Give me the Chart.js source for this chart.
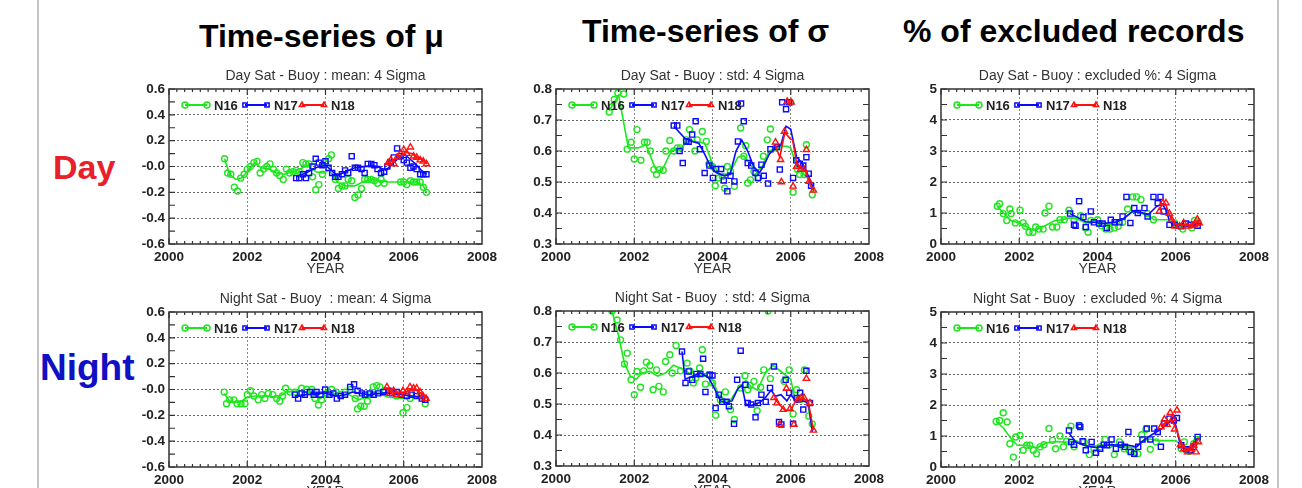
<!DOCTYPE html>
<html>
<head>
<meta charset="utf-8">
<script src="https://cdn.jsdelivr.net/npm/chart.js@4"></script>
<style>
  html, body { margin: 0; padding: 0; background: #fff; }
  body { width: 1302px; height: 488px; position: relative; overflow: hidden;
         font-family: 'Liberation Sans', Arial, sans-serif; }
  .rule { position: absolute; top: 0; width: 2px; height: 488px; background: #c4c4c4; }
  .head { position: absolute; font-weight: bold; font-size: 32px; line-height: 32px; color: #000; white-space: nowrap; }
  .row { position: absolute; font-weight: bold; white-space: nowrap; }
  canvas { position: absolute; }
</style>
</head>
<body>
<div class="rule" style="left:37px"></div>
<div class="rule" style="left:1277px"></div>

<div class="head" style="left:199px; top:20px">Time-series of μ</div>
<div class="head" style="left:582px; top:15px">Time-series of σ</div>
<div class="head" style="left:903px; top:15px">% of excluded records</div>

<div class="row" style="left:53px; top:150px; font-size:34px; line-height:34px; color:#e8202a">Day</div>
<div class="row" style="left:40px; top:349px; font-size:37px; line-height:37px; color:#1010c4">Night</div>

<canvas id="dayMean" width="388" height="220" style="left:119px; top:64px"></canvas>
<canvas id="dayStd" width="388" height="220" style="left:506px; top:64px"></canvas>
<canvas id="dayExcl" width="388" height="220" style="left:891px; top:64px"></canvas>
<canvas id="nightMean" width="388" height="220" style="left:119px; top:287px"></canvas>
<canvas id="nightStd" width="388" height="220" style="left:506px; top:286px"></canvas>
<canvas id="nightExcl" width="388" height="220" style="left:891px; top:287px"></canvas>

<script>
// ---- axis ticks ----
const yearTicks = [2000, 2002, 2004, 2006, 2008];
const yearLabels = ['2000', '2002', '2004', '2006', '2008'];
const meanTicks = [-0.6, -0.4, -0.2, 0, 0.2, 0.4, 0.6];
const meanTickLabels = ['-0.6', '-0.4', '-0.2', '-0.0', '0.2', '0.4', '0.6'];
const stdTicks = [0.3, 0.4, 0.5, 0.6, 0.7, 0.8];
const stdTickLabels = ['0.3', '0.4', '0.5', '0.6', '0.7', '0.8'];
const exclTicks = [0, 1, 2, 3, 4, 5];
const exclTickLabels = ['0', '1', '2', '3', '4', '5'];

const satellites = ['N16', 'N17', 'N18'];

// ---- Day, mean ----
const dayMeanN16Pts = [[2001.42,0.06],[2001.5,-0.05],[2001.58,-0.06],[2001.67,-0.16],[2001.75,-0.19],[2001.83,-0.09],[2001.92,-0.06],[2002.0,-0.02],[2002.08,0.0],[2002.17,0.03],[2002.25,0.04],[2002.33,-0.05],[2002.42,-0.02],[2002.5,0.0],[2002.58,0.02],[2002.67,-0.02],[2002.75,-0.05],[2002.83,-0.07],[2002.92,-0.1],[2003.0,-0.02],[2003.08,-0.05],[2003.17,-0.04],[2003.25,-0.03],[2003.33,-0.04],[2003.42,0.03],[2003.5,0.02],[2003.58,0.02],[2003.67,-0.08],[2003.75,-0.18],[2003.83,-0.14],[2003.92,-0.06],[2004.0,0.02],[2004.08,0.06],[2004.15,0.09],[2004.25,-0.1],[2004.33,-0.17],[2004.42,-0.15],[2004.5,-0.15],[2004.58,-0.1],[2004.67,-0.11],[2004.75,-0.24],[2004.83,-0.22],[2004.92,-0.17],[2005.0,-0.1],[2005.08,-0.1],[2005.17,-0.1],[2005.25,-0.11],[2005.33,-0.13],[2005.42,-0.1],[2005.5,-0.13],[2005.92,-0.12],[2006.0,-0.12],[2006.08,-0.14],[2006.17,-0.11],[2006.25,-0.12],[2006.33,-0.12],[2006.42,-0.12],[2006.5,-0.16],[2006.58,-0.2]];
const dayMeanN16Fit = [[2001.42,0.06],[2001.55,-0.06],[2001.7,-0.1],[2001.85,-0.09],[2002.0,-0.04],[2002.2,0.03],[2002.35,-0.01],[2002.55,-0.02],[2002.75,-0.05],[2002.95,-0.06],[2003.15,-0.04],[2003.35,-0.02],[2003.55,0.01],[2003.75,-0.04],[2003.95,-0.05],[2004.1,-0.03],[2004.3,-0.12],[2004.5,-0.15],[2004.75,-0.15],[2004.95,-0.12],[2005.15,-0.1],[2005.4,-0.11],[2005.6,-0.12],[2006.0,-0.12],[2006.35,-0.12],[2006.5,-0.15],[2006.58,-0.2]];
const dayMeanN17Pts = [[2003.25,-0.09],[2003.33,-0.09],[2003.42,-0.06],[2003.5,-0.09],[2003.58,-0.05],[2003.67,0.0],[2003.75,0.06],[2003.83,0.03],[2003.92,0.01],[2004.0,0.04],[2004.08,-0.01],[2004.17,-0.05],[2004.25,-0.08],[2004.33,-0.08],[2004.42,-0.06],[2004.5,-0.03],[2004.58,-0.05],[2004.67,0.08],[2004.75,-0.01],[2004.83,-0.01],[2004.92,-0.02],[2005.0,-0.05],[2005.08,0.02],[2005.17,0.02],[2005.25,0.01],[2005.33,-0.02],[2005.42,-0.05],[2005.5,-0.04],[2005.58,0.0],[2005.67,0.03],[2005.75,0.07],[2005.83,0.14],[2005.92,0.08],[2006.0,0.05],[2006.08,0.03],[2006.17,-0.01],[2006.25,0.0],[2006.33,-0.02],[2006.42,-0.06],[2006.5,-0.06],[2006.58,-0.06]];
const dayMeanN17Fit = [[2003.25,-0.08],[2003.5,-0.05],[2003.75,-0.01],[2004.0,0.01],[2004.15,-0.03],[2004.3,-0.07],[2004.5,-0.04],[2004.75,-0.01],[2005.0,0.0],[2005.2,0.01],[2005.4,-0.01],[2005.55,-0.03],[2005.7,0.02],[2005.85,0.06],[2006.0,0.1],[2006.15,0.06],[2006.3,0.02],[2006.45,-0.03],[2006.58,-0.06]];
const dayMeanN18Pts = [[2005.6,0.03],[2005.67,0.05],[2005.75,0.02],[2005.83,0.07],[2005.92,0.1],[2006.0,0.13],[2006.08,0.1],[2006.17,0.15],[2006.25,0.08],[2006.33,0.07],[2006.42,0.05],[2006.5,0.04],[2006.58,0.02]];
const dayMeanN18Fit = [[2005.6,0.03],[2005.75,0.05],[2005.9,0.08],[2006.05,0.11],[2006.2,0.1],[2006.35,0.07],[2006.5,0.05],[2006.6,0.02]];

// ---- Day, std ----
const dayStdN16Pts = [[2001.36,0.726],[2001.43,0.742],[2001.49,0.766],[2001.58,0.787],[2001.73,0.784],[2001.82,0.606],[2001.92,0.628],[2002.0,0.574],[2002.07,0.669],[2002.17,0.57],[2002.26,0.628],[2002.33,0.628],[2002.41,0.6],[2002.5,0.54],[2002.57,0.524],[2002.64,0.54],[2002.74,0.538],[2002.81,0.6],[2002.91,0.634],[2003.01,0.6],[2003.1,0.61],[2003.18,0.61],[2003.33,0.636],[2003.41,0.669],[2003.55,0.6],[2003.61,0.636],[2003.74,0.663],[2003.84,0.631],[2003.91,0.559],[2004.0,0.55],[2004.07,0.488],[2004.16,0.513],[2004.25,0.518],[2004.31,0.48],[2004.38,0.55],[2004.46,0.534],[2004.56,0.486],[2004.72,0.674],[2004.8,0.583],[2004.85,0.617],[2004.9,0.497],[2004.97,0.507],[2005.06,0.534],[2005.18,0.513],[2005.3,0.583],[2005.4,0.636],[2005.48,0.671],[2005.61,0.61],[2006.0,0.757],[2006.06,0.467],[2006.17,0.54],[2006.23,0.524],[2006.34,0.524],[2006.4,0.62],[2006.55,0.459]];
const dayStdN16Fit = [[2001.36,0.73],[2001.6,0.78],[2001.85,0.61],[2002.1,0.61],[2002.3,0.62],[2002.55,0.54],[2002.7,0.535],[2002.95,0.6],[2003.2,0.61],[2003.4,0.635],[2003.6,0.63],[2003.8,0.625],[2004.0,0.56],[2004.2,0.52],[2004.45,0.53],[2004.65,0.58],[2004.8,0.585],[2004.95,0.56],[2005.1,0.535],[2005.25,0.545],[2005.45,0.6],[2005.7,0.615],[2005.9,0.615],[2006.0,0.61],[2006.15,0.55],[2006.3,0.53],[2006.45,0.51],[2006.58,0.47]];
const dayStdN17Pts = [[2003.01,0.682],[2003.1,0.682],[2003.16,0.6],[2003.24,0.561],[2003.33,0.631],[2003.39,0.63],[2003.48,0.653],[2003.57,0.696],[2003.68,0.606],[2003.8,0.529],[2003.92,0.553],[2004.01,0.513],[2004.09,0.542],[2004.22,0.542],[2004.29,0.505],[2004.38,0.47],[2004.46,0.52],[2004.56,0.502],[2004.65,0.631],[2004.73,0.753],[2004.8,0.696],[2004.9,0.561],[2004.99,0.553],[2005.1,0.529],[2005.16,0.513],[2005.25,0.556],[2005.31,0.52],[2005.42,0.495],[2005.48,0.606],[2005.65,0.613],[2005.72,0.54],[2005.78,0.757],[2005.88,0.735],[2005.96,0.757],[2006.06,0.513],[2006.14,0.57],[2006.23,0.559],[2006.32,0.553],[2006.4,0.58],[2006.46,0.527],[2006.52,0.488]];
const dayStdN17Fit = [[2003.01,0.68],[2003.3,0.64],[2003.5,0.63],[2003.65,0.625],[2003.8,0.59],[2003.95,0.55],[2004.1,0.53],[2004.3,0.52],[2004.45,0.525],[2004.6,0.6],[2004.75,0.635],[2004.9,0.6],[2005.05,0.55],[2005.2,0.53],[2005.3,0.55],[2005.45,0.59],[2005.6,0.61],[2005.75,0.62],[2005.88,0.68],[2006.0,0.67],[2006.15,0.58],[2006.3,0.56],[2006.45,0.52],[2006.58,0.48]];
const dayStdN18Pts = [[2005.61,0.628],[2005.74,0.572],[2005.76,0.5],[2005.84,0.663],[2005.91,0.76],[2006.01,0.757],[2006.06,0.486],[2006.15,0.55],[2006.25,0.54],[2006.34,0.54],[2006.4,0.604],[2006.47,0.502],[2006.58,0.473]];
const dayStdN18Fit = [[2005.6,0.62],[2005.72,0.58],[2005.85,0.66],[2005.98,0.64],[2006.05,0.635],[2006.15,0.56],[2006.3,0.545],[2006.4,0.53],[2006.5,0.49],[2006.6,0.47]];

// ---- Day, excluded % ----
const dayExclN16Pts = [[2001.44,1.22],[2001.5,1.3],[2001.59,0.98],[2001.68,0.76],[2001.76,1.13],[2001.79,0.98],[2001.9,0.68],[2002.02,1.09],[2002.1,0.68],[2002.16,0.57],[2002.25,0.38],[2002.35,0.38],[2002.42,0.55],[2002.5,0.48],[2002.61,0.48],[2002.66,1.0],[2002.76,1.22],[2002.85,0.55],[2002.96,0.55],[2003.04,0.78],[2003.15,0.78],[2003.27,1.09],[2003.4,0.78],[2003.57,0.91],[2003.7,0.52],[2003.76,0.38],[2003.83,0.76],[2004.0,0.78],[2004.1,0.59],[2004.21,0.48],[2004.32,0.48],[2004.43,0.52],[2004.53,0.57],[2004.64,0.7],[2004.77,1.13],[2004.9,1.52],[2005.0,1.52],[2005.11,1.43],[2005.28,0.98],[2005.43,0.78],[2005.97,0.68],[2006.18,0.48],[2006.41,0.52],[2006.48,0.76],[2006.56,0.7]];
const dayExclN16Fit = [[2001.44,1.2],[2001.6,1.0],[2001.8,0.75],[2002.0,0.68],[2002.2,0.55],[2002.35,0.45],[2002.6,0.55],[2002.9,0.75],[2003.1,0.78],[2003.3,0.85],[2003.5,0.8],[2003.7,0.68],[2003.9,0.75],[2004.1,0.7],[2004.3,0.62],[2004.5,0.7],[2004.7,0.85],[2004.9,1.05],[2005.1,1.0],[2005.3,0.9],[2005.45,0.78],[2005.9,0.78],[2006.0,0.65],[2006.2,0.55],[2006.4,0.6],[2006.58,0.7]];
const dayExclN17Pts = [[2003.3,0.98],[2003.4,0.62],[2003.44,0.59],[2003.53,1.38],[2003.64,0.87],[2003.7,0.55],[2003.83,1.05],[2003.91,0.7],[2004.04,0.66],[2004.13,0.66],[2004.24,0.52],[2004.34,0.78],[2004.44,0.7],[2004.56,0.7],[2004.64,0.89],[2004.74,1.52],[2004.84,0.68],[2004.94,1.16],[2005.03,1.0],[2005.2,1.16],[2005.28,0.89],[2005.43,1.52],[2005.54,1.32],[2005.61,1.52],[2005.69,1.05],[2005.84,0.62],[2005.97,0.62],[2006.14,0.57],[2006.26,0.66],[2006.39,0.62],[2006.56,0.59]];
const dayExclN17Fit = [[2003.3,0.98],[2003.5,0.85],[2003.7,0.72],[2003.9,0.7],[2004.1,0.66],[2004.3,0.68],[2004.5,0.72],[2004.7,0.85],[2004.9,1.05],[2005.1,1.02],[2005.3,0.95],[2005.5,1.2],[2005.65,1.3],[2005.75,1.1],[2005.85,0.7],[2006.0,0.6],[2006.2,0.6],[2006.4,0.6],[2006.58,0.65]];
const dayExclN18Pts = [[2005.58,1.05],[2005.67,1.32],[2005.75,1.32],[2005.84,0.98],[2005.9,0.78],[2005.98,0.57],[2006.1,0.57],[2006.2,0.68],[2006.3,0.57],[2006.41,0.59],[2006.48,0.62],[2006.55,0.8],[2006.6,0.68]];
const dayExclN18Fit = [[2005.58,1.1],[2005.67,1.3],[2005.75,1.25],[2005.85,0.9],[2005.95,0.68],[2006.1,0.62],[2006.25,0.6],[2006.4,0.6],[2006.5,0.68],[2006.6,0.72]];

// ---- Night, mean ----
const nightMeanN16Pts = [[2001.41,-0.02],[2001.47,-0.11],[2001.55,-0.08],[2001.66,-0.08],[2001.74,-0.11],[2001.84,-0.11],[2001.94,-0.11],[2002.0,-0.04],[2002.08,-0.01],[2002.17,-0.05],[2002.28,-0.08],[2002.37,-0.04],[2002.45,-0.07],[2002.54,-0.03],[2002.65,-0.04],[2002.75,-0.07],[2002.83,-0.09],[2002.9,-0.05],[2002.98,0.01],[2003.09,-0.02],[2003.22,-0.02],[2003.39,0.01],[2003.52,0.0],[2003.65,0.0],[2003.73,-0.07],[2003.82,-0.12],[2003.9,-0.08],[2004.03,-0.03],[2004.16,0.0],[2004.27,-0.02],[2004.37,-0.04],[2004.5,-0.02],[2004.63,0.0],[2004.76,-0.07],[2004.82,-0.15],[2004.9,-0.13],[2004.99,-0.13],[2005.07,-0.09],[2005.14,-0.04],[2005.22,0.02],[2005.31,0.03],[2005.39,0.02],[2005.52,-0.01],[2005.82,-0.05],[2005.98,-0.18],[2006.08,-0.14],[2006.16,-0.07],[2006.32,-0.03],[2006.44,-0.05],[2006.55,-0.11]];
const nightMeanN16Fit = [[2001.41,-0.03],[2001.55,-0.09],[2001.8,-0.1],[2002.0,-0.06],[2002.2,-0.05],[2002.5,-0.05],[2002.8,-0.06],[2003.0,-0.02],[2003.3,-0.01],[2003.6,-0.02],[2003.85,-0.07],[2004.0,-0.05],[2004.3,-0.03],[2004.6,-0.04],[2004.85,-0.08],[2005.1,-0.05],[2005.35,-0.03],[2005.6,-0.06],[2006.0,-0.07],[2006.3,-0.05],[2006.55,-0.1]];
const nightMeanN17Pts = [[2003.22,-0.04],[2003.3,-0.07],[2003.39,-0.03],[2003.47,-0.04],[2003.6,-0.02],[2003.7,-0.04],[2003.77,-0.02],[2003.87,-0.04],[2003.99,0.0],[2004.1,-0.04],[2004.2,-0.03],[2004.29,-0.07],[2004.39,-0.05],[2004.5,-0.04],[2004.63,0.02],[2004.73,0.04],[2004.82,-0.01],[2004.93,-0.03],[2005.01,-0.04],[2005.13,-0.03],[2005.23,-0.04],[2005.35,-0.03],[2005.48,-0.02],[2005.61,-0.01],[2005.7,-0.03],[2005.82,-0.02],[2005.95,-0.04],[2006.08,-0.05],[2006.2,-0.04],[2006.33,-0.05],[2006.46,-0.07],[2006.55,-0.08]];
const nightMeanN17Fit = [[2003.22,-0.05],[2003.5,-0.04],[2003.8,-0.03],[2004.0,-0.03],[2004.3,-0.05],[2004.5,-0.04],[2004.7,-0.02],[2004.9,-0.03],[2005.1,-0.04],[2005.4,-0.03],[2005.7,-0.02],[2005.95,-0.04],[2006.2,-0.05],[2006.4,-0.06],[2006.55,-0.08]];
const nightMeanN18Pts = [[2005.57,0.02],[2005.64,-0.03],[2005.74,-0.01],[2005.82,-0.04],[2005.91,-0.04],[2005.98,-0.01],[2006.08,-0.02],[2006.16,0.02],[2006.25,0.01],[2006.33,0.01],[2006.42,-0.02],[2006.49,-0.05],[2006.57,-0.07]];
const nightMeanN18Fit = [[2005.57,0.0],[2005.75,-0.02],[2005.95,-0.03],[2006.15,-0.01],[2006.3,0.0],[2006.45,-0.03],[2006.57,-0.07]];

// ---- Night, std ----
const nightStdN16Pts = [[2001.43,0.8],[2001.56,0.771],[2001.65,0.707],[2001.75,0.629],[2001.82,0.664],[2001.92,0.578],[2002.0,0.53],[2002.07,0.605],[2002.16,0.554],[2002.24,0.607],[2002.31,0.635],[2002.4,0.624],[2002.48,0.546],[2002.57,0.61],[2002.63,0.557],[2002.74,0.539],[2002.8,0.637],[2002.91,0.659],[2002.97,0.6],[2003.07,0.689],[2003.18,0.607],[2003.35,0.632],[2003.42,0.607],[2003.51,0.568],[2003.57,0.584],[2003.67,0.616],[2003.74,0.675],[2003.82,0.564],[2003.91,0.594],[2004.0,0.568],[2004.08,0.464],[2004.2,0.514],[2004.33,0.539],[2004.46,0.482],[2004.56,0.45],[2004.72,0.552],[2004.83,0.591],[2004.9,0.546],[2004.96,0.56],[2005.06,0.573],[2005.14,0.478],[2005.23,0.554],[2005.31,0.61],[2005.42,0.8],[2005.48,0.582],[2005.83,0.573],[2005.96,0.61],[2006.06,0.468],[2006.15,0.546],[2006.24,0.514],[2006.35,0.61],[2006.46,0.461],[2006.55,0.436]];
const nightStdN16Fit = [[2001.43,0.8],[2001.6,0.72],[2001.75,0.63],[2001.9,0.59],[2002.05,0.58],[2002.2,0.6],[2002.4,0.605],[2002.6,0.59],[2002.8,0.6],[2003.0,0.625],[2003.2,0.615],[2003.4,0.6],[2003.6,0.595],[2003.8,0.59],[2004.0,0.58],[2004.15,0.53],[2004.3,0.515],[2004.45,0.51],[2004.65,0.55],[2004.85,0.575],[2005.0,0.555],[2005.15,0.545],[2005.35,0.6],[2005.55,0.625],[2005.8,0.6],[2006.0,0.58],[2006.1,0.52],[2006.3,0.53],[2006.45,0.49],[2006.55,0.42]];
const nightStdN17Pts = [[2003.22,0.669],[2003.31,0.568],[2003.39,0.605],[2003.48,0.578],[2003.59,0.597],[2003.69,0.597],[2003.76,0.646],[2003.82,0.539],[2003.93,0.594],[2004.0,0.592],[2004.08,0.487],[2004.16,0.53],[2004.25,0.507],[2004.36,0.507],[2004.42,0.493],[2004.55,0.436],[2004.63,0.578],[2004.72,0.672],[2004.84,0.562],[2004.9,0.503],[2004.99,0.498],[2005.1,0.457],[2005.16,0.503],[2005.25,0.53],[2005.36,0.507],[2005.47,0.552],[2005.57,0.621],[2005.7,0.442],[2005.76,0.434],[2005.87,0.578],[2005.96,0.536],[2006.06,0.436],[2006.15,0.519],[2006.24,0.536],[2006.32,0.482],[2006.4,0.607],[2006.49,0.503]];
const nightStdN17Fit = [[2003.22,0.67],[2003.3,0.58],[2003.5,0.59],[2003.7,0.6],[2003.9,0.585],[2004.05,0.55],[2004.2,0.51],[2004.35,0.505],[2004.5,0.51],[2004.65,0.55],[2004.75,0.56],[2004.85,0.5],[2005.0,0.495],[2005.2,0.505],[2005.35,0.52],[2005.5,0.545],[2005.6,0.525],[2005.75,0.53],[2005.9,0.51],[2006.0,0.53],[2006.15,0.505],[2006.3,0.51],[2006.45,0.505],[2006.55,0.41]];
const nightStdN18Pts = [[2005.57,0.52],[2005.65,0.503],[2005.72,0.434],[2005.81,0.482],[2005.89,0.55],[2005.98,0.485],[2006.08,0.434],[2006.18,0.514],[2006.27,0.52],[2006.34,0.52],[2006.4,0.582],[2006.49,0.503],[2006.58,0.415]];
const nightStdN18Fit = [[2005.57,0.52],[2005.7,0.5],[2005.85,0.48],[2006.0,0.48],[2006.15,0.515],[2006.3,0.52],[2006.45,0.505],[2006.58,0.415]];

// ---- Night, excluded % ----
const nightExclN16Pts = [[2001.41,1.47],[2001.5,1.5],[2001.59,1.75],[2001.69,1.45],[2001.76,0.75],[2001.85,0.32],[2001.91,0.97],[2002.02,1.02],[2002.1,0.54],[2002.19,0.7],[2002.27,0.7],[2002.36,0.54],[2002.44,0.43],[2002.53,0.65],[2002.63,0.72],[2002.76,1.24],[2002.85,0.86],[2002.93,0.59],[2003.04,1.0],[2003.13,0.65],[2003.21,0.83],[2003.32,1.32],[2003.4,0.65],[2003.53,1.34],[2003.66,0.81],[2003.79,0.4],[2003.91,0.59],[2004.06,0.65],[2004.19,0.89],[2004.3,0.72],[2004.43,0.4],[2004.56,0.81],[2004.68,0.59],[2004.81,0.54],[2004.94,0.43],[2005.03,0.43],[2005.13,1.04],[2005.24,1.22],[2005.35,0.57],[2005.5,0.81],[2006.14,0.59],[2006.22,0.81],[2006.35,0.51],[2006.46,0.75],[2006.55,0.89]];
const nightExclN16Fit = [[2001.41,1.47],[2001.6,1.25],[2001.8,0.9],[2001.95,0.7],[2002.2,0.7],[2002.45,0.62],[2002.7,0.78],[2002.95,0.82],[2003.2,0.8],[2003.45,0.85],[2003.7,0.68],[2003.95,0.65],[2004.2,0.72],[2004.45,0.68],[2004.7,0.65],[2004.95,0.62],[2005.15,0.85],[2005.35,0.9],[2005.5,0.85],[2006.0,0.85],[2006.15,0.7],[2006.3,0.62],[2006.45,0.7],[2006.55,0.85]];
const nightExclN17Pts = [[2003.27,1.18],[2003.33,0.81],[2003.4,0.72],[2003.53,1.34],[2003.56,1.29],[2003.62,0.83],[2003.7,0.54],[2003.85,0.81],[2003.96,0.46],[2004.07,0.59],[2004.16,0.72],[2004.24,0.7],[2004.36,0.89],[2004.47,0.59],[2004.6,0.72],[2004.7,0.65],[2004.79,1.13],[2004.85,0.48],[2004.94,0.43],[2005.04,0.65],[2005.15,0.89],[2005.26,1.24],[2005.35,0.89],[2005.45,1.24],[2005.54,1.13],[2005.62,0.65],[2005.71,1.4],[2005.84,1.56],[2005.95,1.5],[2006.03,1.58],[2006.14,0.7],[2006.27,0.57],[2006.38,0.54],[2006.46,0.65],[2006.56,0.97]];
const nightExclN17Fit = [[2003.27,1.1],[2003.45,0.8],[2003.65,0.7],[2003.85,0.65],[2004.0,0.62],[2004.2,0.7],[2004.4,0.72],[2004.6,0.7],[2004.8,0.7],[2005.0,0.65],[2005.2,0.88],[2005.4,1.05],[2005.6,1.2],[2005.75,1.35],[2005.9,1.52],[2006.0,1.35],[2006.1,0.8],[2006.25,0.58],[2006.4,0.6],[2006.56,0.95]];
const nightExclN18Pts = [[2005.62,1.29],[2005.71,1.54],[2005.78,1.37],[2005.86,1.75],[2005.92,1.56],[2005.97,1.22],[2006.03,1.83],[2006.12,0.72],[2006.21,0.59],[2006.3,0.48],[2006.38,0.59],[2006.46,0.7],[2006.52,0.48],[2006.58,0.81]];
const nightExclN18Fit = [[2005.62,1.3],[2005.75,1.45],[2005.88,1.5],[2005.97,1.35],[2006.05,1.1],[2006.15,0.7],[2006.3,0.55],[2006.45,0.62],[2006.58,0.8]];

// ---- drawing ----
const FONT = "'Liberation Sans', Arial, sans-serif";
const colors = { N16: '#1ee61e', N17: '#0a0aff', N18: '#ff1010' };
const markers = { N16: 'circle', N17: 'rect', N18: 'triangle' };

Chart.defaults.font.family = FONT;

// IDL-style box: frame, inward ticks, legend inside the plot
const idlFrame = {
  id: 'idlFrame',
  afterDatasetsDraw(chart) {
    const { ctx, chartArea: a, scales: { x, y } } = chart;
    ctx.save();
    ctx.strokeStyle = '#333';
    ctx.lineWidth = 1.5;
    ctx.strokeRect(a.left, a.top, a.right - a.left, a.bottom - a.top);

    ctx.lineWidth = 1.2;
    ctx.beginPath();
    const yt = y.ticks.map(t => t.value);
    for (let i = 0; i < yt.length; i++) {
      const vals = [yt[i]];
      if (i < yt.length - 1) vals.push((yt[i] + yt[i + 1]) / 2);
      vals.forEach(v => {
        const py = y.getPixelForValue(v);
        ctx.moveTo(a.left, py); ctx.lineTo(a.left + 6, py);
        ctx.moveTo(a.right, py); ctx.lineTo(a.right - 6, py);
      });
    }
    const xt = x.ticks.map(t => t.value);
    for (let i = 0; i < xt.length - 1; i++) {
      for (let k = 0; k < 10; k++) {
        const px = x.getPixelForValue(xt[i] + (xt[i + 1] - xt[i]) * k / 10);
        const len = k === 0 ? 6 : 3;
        ctx.moveTo(px, a.top); ctx.lineTo(px, a.top + len);
        ctx.moveTo(px, a.bottom); ctx.lineTo(px, a.bottom - len);
      }
    }
    ctx.stroke();

    // legend
    const offs = [16, 76, 133];
    const ly = a.top + 16;
    ctx.font = 'bold 13px ' + FONT;
    ctx.textBaseline = 'middle';
    ctx.textAlign = 'left';
    satellites.forEach((s, i) => {
      const x0 = a.left + offs[i];
      ctx.strokeStyle = colors[s];
      ctx.fillStyle = 'rgba(0,0,0,0)';
      ctx.lineWidth = 2;
      ctx.beginPath();
      ctx.moveTo(x0, ly); ctx.lineTo(x0 + 22, ly);
      ctx.stroke();
      ctx.lineWidth = 1.5;
      [x0, x0 + 22].forEach(px => {
        Chart.helpers.drawPoint(ctx, { pointStyle: markers[s], radius: 3, rotation: 0, borderWidth: 1.5 }, px, ly);
      });
      ctx.fillStyle = '#222';
      ctx.fillText(s, x0 + 29, ly + 1);
    });
    ctx.restore();
  }
};

function seriesSets(n16p, n16f, n17p, n17f, n18p, n18f) {
  const list = [['N18', n18p, n18f], ['N17', n17p, n17f], ['N16', n16p, n16f]];
  const out = [];
  list.forEach(([s, pts, fit]) => {
    out.push({ label: s + ' fit', data: fit, showLine: true, borderColor: colors[s],
               borderWidth: 1.6, pointRadius: 0, tension: 0 });
    out.push({ label: s, data: pts, showLine: false, borderColor: colors[s],
               backgroundColor: 'rgba(0,0,0,0)', pointStyle: markers[s],
               pointRadius: s === 'N16' ? 3 : 3.6, pointBorderWidth: 1.4 });
  });
  return out;
}

function makeChart(id, title, yMin, yMax, yTicks, yLabels, datasets) {
  const edge = (c, n) => c.index === 0 || c.index === n - 1;
  new Chart(document.getElementById(id), {
    type: 'scatter',
    data: { datasets },
    plugins: [idlFrame],
    options: {
      responsive: false,
      animation: false,
      events: [],
      layout: { padding: { left: 0, right: 25, top: 0, bottom: 0 } },
      plugins: {
        legend: { display: false },
        tooltip: { enabled: false },
        title: { display: true, fullSize: false, text: title, color: '#333',
                 font: { size: 14, weight: 'normal', lineHeight: '15px' },
                 padding: { top: 5, bottom: 5 } }
      },
      scales: {
        x: {
          type: 'linear', min: 2000, max: 2008,
          afterBuildTicks: s => { s.ticks = yearTicks.map(v => ({ value: v })); },
          afterFit: s => { s.height = 40; },
          ticks: { callback: (v, i) => yearLabels[i], color: '#222', autoSkip: false, maxRotation: 0,
                   font: { size: 13.5, weight: 'bold' }, padding: 5 },
          grid: { drawTicks: false, lineWidth: 1,
                  color: c => edge(c, yearTicks.length) ? 'rgba(0,0,0,0)' : '#888' },
          border: { display: false, dash: [2, 2] },
          title: { display: true, text: 'YEAR', color: '#333', font: { size: 14 },
                   padding: { top: 0, bottom: 6 } }
        },
        y: {
          type: 'linear', min: yMin, max: yMax,
          afterBuildTicks: s => { s.ticks = yTicks.map(v => ({ value: v })); },
          afterFit: s => { s.width = 50; },
          ticks: { callback: (v, i) => yLabels[i], color: '#222', autoSkip: false,
                   font: { size: 13.5, weight: 'bold' }, padding: 4 },
          grid: { drawTicks: false, lineWidth: 1,
                  color: c => edge(c, yTicks.length) ? 'rgba(0,0,0,0)' : '#666' },
          border: { display: false, dash: [2, 2] }
        }
      }
    }
  });
}

makeChart('dayMean', 'Day Sat - Buoy : mean: 4 Sigma', -0.6, 0.6, meanTicks, meanTickLabels,
  seriesSets(dayMeanN16Pts, dayMeanN16Fit, dayMeanN17Pts, dayMeanN17Fit, dayMeanN18Pts, dayMeanN18Fit));
makeChart('dayStd', 'Day Sat - Buoy : std: 4 Sigma', 0.3, 0.8, stdTicks, stdTickLabels,
  seriesSets(dayStdN16Pts, dayStdN16Fit, dayStdN17Pts, dayStdN17Fit, dayStdN18Pts, dayStdN18Fit));
makeChart('dayExcl', 'Day Sat - Buoy : excluded %: 4 Sigma', 0, 5, exclTicks, exclTickLabels,
  seriesSets(dayExclN16Pts, dayExclN16Fit, dayExclN17Pts, dayExclN17Fit, dayExclN18Pts, dayExclN18Fit));
makeChart('nightMean', 'Night Sat - Buoy  : mean: 4 Sigma', -0.6, 0.6, meanTicks, meanTickLabels,
  seriesSets(nightMeanN16Pts, nightMeanN16Fit, nightMeanN17Pts, nightMeanN17Fit, nightMeanN18Pts, nightMeanN18Fit));
makeChart('nightStd', 'Night Sat - Buoy  : std: 4 Sigma', 0.3, 0.8, stdTicks, stdTickLabels,
  seriesSets(nightStdN16Pts, nightStdN16Fit, nightStdN17Pts, nightStdN17Fit, nightStdN18Pts, nightStdN18Fit));
makeChart('nightExcl', 'Night Sat - Buoy  : excluded %: 4 Sigma', 0, 5, exclTicks, exclTickLabels,
  seriesSets(nightExclN16Pts, nightExclN16Fit, nightExclN17Pts, nightExclN17Fit, nightExclN18Pts, nightExclN18Fit));
</script>
</body>
</html>
